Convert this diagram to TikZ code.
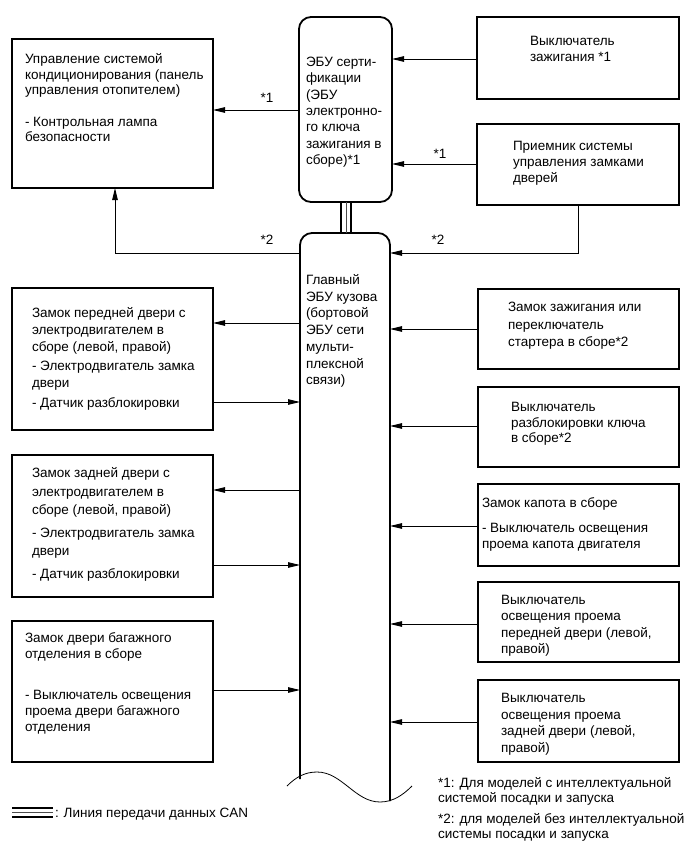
\documentclass[tikz,border=0pt]{standalone}
\usepackage{fontspec}
\setmainfont{Liberation Sans}
\usetikzlibrary{arrows.meta}
\newcommand{\fl}{\rule{0pt}{10.5pt}}
\begin{document}
\begin{tikzpicture}[x=1pt,y=-1pt,
  box/.style={draw,line width=1.5pt,inner sep=0pt,outer sep=0pt,anchor=north west},
  txt/.style={inner sep=0pt,outer sep=0pt,anchor=north west,align=left,font=\fontsize{13.5}{#1}\selectfont},
  txt/.default=16.3,
  lbl/.style={inner sep=0pt,font=\fontsize{13.5}{15}\selectfont},
  arr/.style={line width=0.9pt,-{Triangle[length=12pt,width=5.5pt]}},
  eculine/.style={line width=1.8pt,rounded corners=12pt}]
\useasboundingbox (0,0) rectangle (690,855);

% boxes left
\node[box,minimum width=201,minimum height=149] (b1) at (12,39) {};
\node[box,minimum width=201,minimum height=142] (b2) at (12,288) {};
\node[box,minimum width=201,minimum height=142] (b3) at (12,455) {};
\node[box,minimum width=201,minimum height=141] (b4) at (12,621) {};
% boxes right
\node[box,minimum width=202,minimum height=82] (r1) at (477,17) {};
\node[box,minimum width=202,minimum height=81] (r2) at (477,124) {};
\node[box,minimum width=201,minimum height=80] (r3) at (478,289) {};
\node[box,minimum width=201,minimum height=80] (r4) at (478,387) {};
\node[box,minimum width=201,minimum height=82] (r5) at (478,484) {};
\node[box,minimum width=201,minimum height=80] (r6) at (478,582) {};
\node[box,minimum width=201,minimum height=82] (r7) at (478,680) {};

% ECUs
\node[draw,line width=1.8pt,rounded corners=12pt,inner sep=0pt,outer sep=0pt,anchor=north west,minimum width=93,minimum height=185] (ecu1) at (299,17) {};
\node[inner sep=0pt,outer sep=0pt,anchor=north west,minimum width=90,minimum height=568] (ecu2) at (300,233) {};
\draw[eculine] (ecu2.west |- 0,779) -- (ecu2.north west) -- (ecu2.north east) -- (ecu2.east |- 0,801);
\draw[line width=0.8pt] (287,786) .. controls (296,777) and (305,772) .. (317,772)
  .. controls (342,772) and (355,802) .. (380,802) .. controls (393,802) and (403,795) .. (412,786);

% CAN bus between ECUs
\draw[line width=1.6pt] (ecu1.south -| 341,0) -- (ecu2.north -| 341,0);
\draw[line width=1.6pt] (ecu1.south -| 351,0) -- (ecu2.north -| 351,0);
\draw[line width=0.6pt,black!70] (ecu1.south -| 346,0) -- (ecu2.north -| 346,0);

% texts
\node[txt=15.5] (t1) at (25,53) {\fl Управление системой\\кондиционирования (панель\\управления отопителем)\\[16pt]- Контрольная лампа\\безопасности};
\node[txt=17] (t2) at (32,307) {\fl Замок передней двери с\\электродвигателем в\\сборе (левой, правой)\\[2pt]- Электродвигатель замка\\двери\\[3pt]- Датчик разблокировки};
\node[txt=18.5] (t3) at (32,467) {\fl Замок задней двери с\\электродвигателем в\\сборе (левой, правой)\\[4pt]- Электродвигатель замка\\двери\\[4pt]- Датчик разблокировки};
\node[txt=16] (t4) at (25,632) {\fl Замок двери багажного\\отделения в сборе\\[25pt]- Выключатель освещения\\проема двери багажного\\отделения};
\node[txt=16.3] (te1) at (306,56) {\fl ЭБУ серти-\\фикации\\(ЭБУ\\электронно-\\го ключа\\зажигания в\\сборе)*1};
\node[txt=16.7] (te2) at (306,274) {\fl Главный\\ЭБУ кузова\\(бортовой\\ЭБУ сети\\мульти-\\плексной\\связи)};
\node[txt=16] (s1) at (530,35) {\fl Выключатель\\зажигания *1};
\node[txt=16] (s2) at (513,140) {\fl Приемник системы\\управления замками\\дверей};
\node[txt=17.5] (s3) at (508,301) {\fl Замок зажигания или\\переключатель\\стартера в сборе*2};
\node[txt=15.5] (s4) at (511,401) {\fl Выключатель\\разблокировки ключа\\в сборе*2};
\node[txt=16] (s5) at (482,497) {\fl Замок капота в сборе\\[9pt]- Выключатель освещения\\проема капота двигателя};
\node[txt=16.3] (s6) at (501,594) {\fl Выключатель\\освещения проема\\передней двери (левой,\\правой)};
\node[txt=16.7] (s7) at (501,692) {\fl Выключатель\\освещения проема\\задней двери (левой,\\правой)};
\node[txt=14.5] (fn1) at (438,777) {\fl *1: Для моделей с интеллектуальной\\системой посадки и запуска};
\node[txt=14.5] (fn2) at (438,813) {\fl *2: для моделей без интеллектуальной\\системы посадки и запуска};

% legend
\coordinate (lg1) at (12,808);
\coordinate (lg2) at (53,808);
\draw[line width=2pt] (lg1) -- (lg2);
\draw[line width=0.6pt,black!70] ([yshift=-4.5pt]lg1) -- ([yshift=-4.5pt]lg2);
\draw[line width=2pt] ([yshift=-9pt]lg1) -- ([yshift=-9pt]lg2);
\node[txt] (lgt) at (55,807) {\fl : Линия передачи данных CAN};

% connectors
\draw[arr] (r1.west |- 0,59) -- (ecu1.east |- 0,59);
\draw[arr] (r2.west |- 0,164) -- (ecu1.east |- 0,164);
\node[lbl] (l1) at (440,154) {*1};
\draw[arr] (ecu1.west |- 0,110) -- (b1.east |- 0,110);
\node[lbl] (l2) at (267,98) {*1};
\draw[arr] (r2.south -| 578,0) -- (578,253) -- (ecu2.east |- 0,253);
\node[lbl] (l3) at (438,240) {*2};
\draw[arr] (ecu2.west |- 0,253) -| (b1.south -| 115,0);
\node[lbl] (l4) at (267,240) {*2};

\draw[arr] (ecu2.west |- 0,323) -- (b2.east |- 0,323);
\draw[arr] (b2.east |- 0,402) -- (ecu2.west |- 0,402);
\draw[arr] (ecu2.west |- 0,490) -- (b3.east |- 0,490);
\draw[arr] (b3.east |- 0,565) -- (ecu2.west |- 0,565);
\draw[arr] (b4.east |- 0,690) -- (ecu2.west |- 0,690);

\draw[arr] (r3.west |- 0,329) -- (ecu2.east |- 0,329);
\draw[arr] (r4.west |- 0,426) -- (ecu2.east |- 0,426);
\draw[arr] (r5.west |- 0,526) -- (ecu2.east |- 0,526);
\draw[arr] (r6.west |- 0,624) -- (ecu2.east |- 0,624);
\draw[arr] (r7.west |- 0,722) -- (ecu2.east |- 0,722);
\end{tikzpicture}
\end{document}
